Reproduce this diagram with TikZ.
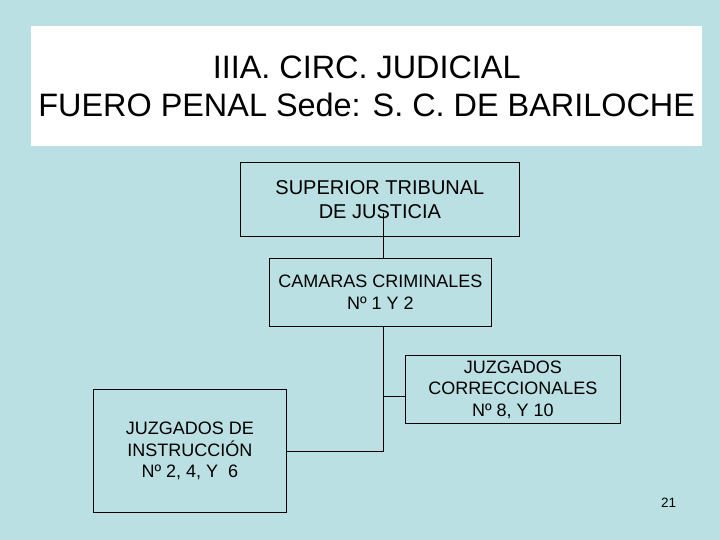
\documentclass[tikz,border=0pt]{standalone}
\usepackage{fontspec}
\setmainfont{Liberation Sans}
\definecolor{bg}{RGB}{187,224,227}
\begin{document}
\begin{tikzpicture}[x=1pt,y=-1pt,
  box/.style={draw=black, line width=0.8pt, align=center, inner sep=0pt, anchor=north west, font=\fontsize{18}{21.5}\selectfont},
  conn/.style={draw=black, line width=0.8pt}]
\fill[bg] (0,0) rectangle (720,540);
\useasboundingbox (0,0) rectangle (720,540);
\node[fill=white, minimum width=671pt, minimum height=120pt, anchor=north west, inner sep=0pt,
  font=\fontsize{32.4}{38}\selectfont, align=center] (title) at (31,26)
  {IIIA. CIRC. JUDICIAL\\FUERO PENAL Sede: S. C. DE BARILOCHE};
\node[box, minimum width=279pt, minimum height=74pt, font=\fontsize{20}{24.5}\selectfont] (sup) at (240,162) {SUPERIOR TRIBUNAL\\DE JUSTICIA};
\node[box, minimum width=222pt, minimum height=68pt] (cam) at (269,258) {CAMARAS CRIMINALES\\Nº 1 Y 2};
\node[box, minimum width=215pt, minimum height=68pt] (corr) at (405,355) {JUZGADOS\\CORRECCIONALES\\Nº 8, Y 10};
\node[box, minimum width=193pt, minimum height=123pt] (inst) at (93,389) {JUZGADOS DE\\INSTRUCCIÓN\\Nº 2, 4, Y~\ 6};
\node[font=\fontsize{13.5}{16}\selectfont] (pg) at (668.5,503) {21};
\coordinate (supin) at (383,213);
\coordinate (j1) at (383,396);
\coordinate (j2) at (383,451);
\draw[conn] (supin) -- (supin |- cam.north);
\draw[conn] (supin |- cam.south) -- (j2) -- (j2 -| inst.east);
\draw[conn] (j1) -- (j1 -| corr.west);
\end{tikzpicture}
\end{document}
